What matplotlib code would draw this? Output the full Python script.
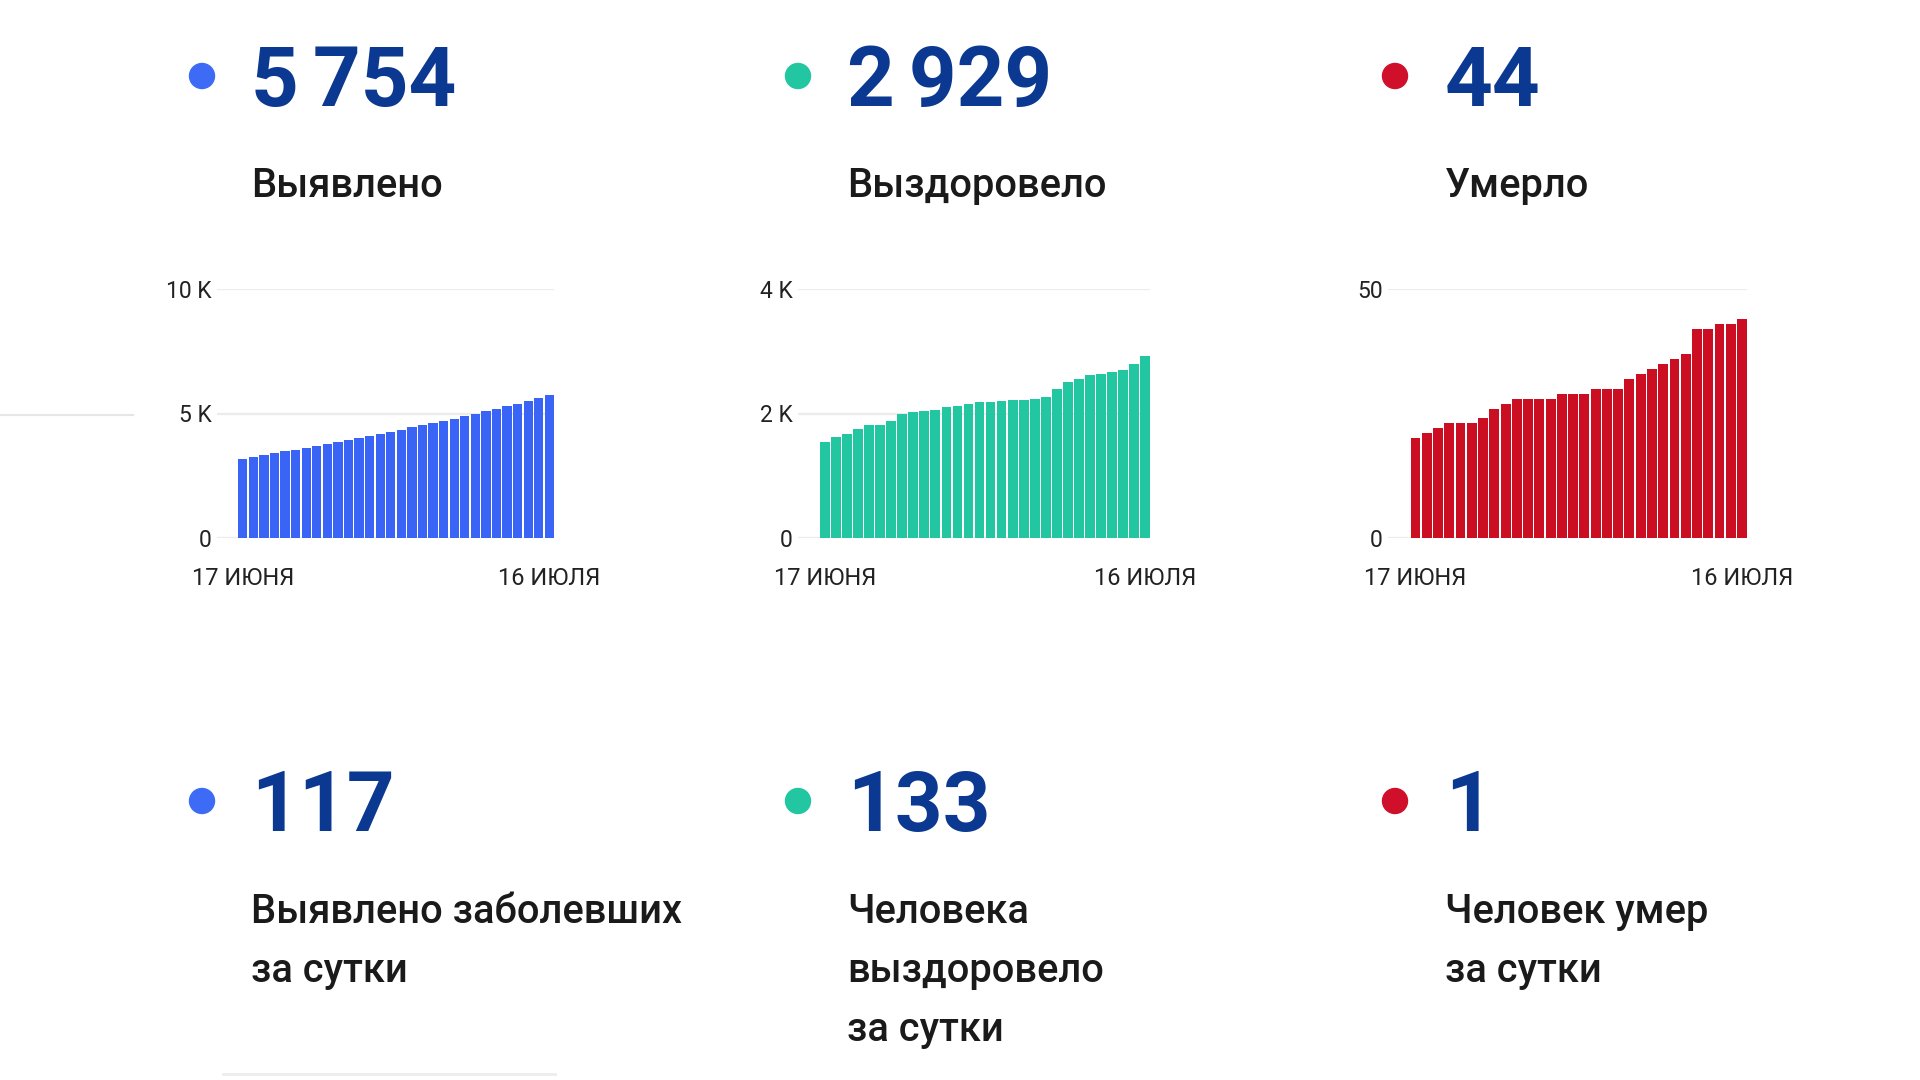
import matplotlib
matplotlib.use("Agg")
import matplotlib.pyplot as plt
from matplotlib.lines import Line2D
from matplotlib.patches import Ellipse

plt.rcParams['font.family'] = ['Roboto', 'DejaVu Sans']

# ---------------- data ----------------
date_labels = ['17 ИЮНЯ', '16 ИЮЛЯ']

detected = [3173, 3241, 3321, 3402, 3482, 3546, 3627, 3707, 3787, 3855,
            3936, 4016, 4096, 4189, 4269, 4350, 4440, 4520, 4605, 4700,
            4790, 4885, 4990, 5085, 5185, 5290, 5400, 5510, 5637, 5754]
recovered = [1548, 1624, 1666, 1752, 1810, 1812, 1886, 1993, 2030, 2035,
             2051, 2111, 2127, 2154, 2180, 2191, 2202, 2212, 2218, 2239,
             2271, 2395, 2502, 2556, 2620, 2641, 2673, 2694, 2796, 2929]
deaths = [20, 21, 22, 23, 23, 23, 24, 26, 27, 28,
          28, 28, 28, 29, 29, 29, 30, 30, 30, 32,
          33, 34, 35, 36, 37, 42, 42, 43, 43, 44]

totals = ['5\u2006754', '2\u2006929', '44']
total_labels = ['Выявлено', 'Выздоровело', 'Умерло']
daily = ['117', '133', '1']
daily_labels = ['Выявлено заболевших\nза сутки',
                'Человека\nвыздоровело\nза сутки',
                'Человек умер\nза сутки']

y_ticks = [[0, 5000, 10000], [0, 2000, 4000], [0, 50]]
y_ticklabels = [['0', '5 K', '10 K'], ['0', '2 K', '4 K'], ['0', '50']]
y_max = [10000, 4000, 50]

colors = ['#3a64f6', '#22c6a0', '#cc0e22']
dot_colors = ['#3d6bf5', '#22c7a1', '#d0102a']
num_color = '#0b3890'
text_color = '#1a1a1a'

# ---------------- figure ----------------
W, H = 1920, 1080
fig = plt.figure(figsize=(W / 100, H / 100), dpi=100)
fig.patch.set_facecolor('white')


def fx(px):
    return px / W


def fy(py):
    return 1 - py / H


col_x = [251, 847, 1445]
dot_x = [202, 798, 1395]
dot_d = 25


def dot(x, y, c):
    fig.add_artist(Ellipse((fx(x), fy(y)), width=dot_d / W, height=dot_d / H,
                           transform=fig.transFigure, color=c))


# top numbers and labels
for i in range(3):
    dot(dot_x[i], 76, dot_colors[i])
    fig.text(fx(col_x[i]), fy(106), totals[i], fontsize=60, fontweight='bold',
             color=num_color, ha='left', va='baseline',
             family=['Roboto', 'DejaVu Sans'])
    fig.text(fx(col_x[i]), fy(197), total_labels[i], fontsize=28.7,
             fontweight='medium', color=text_color, ha='left', va='baseline')

# bottom numbers and labels
for i in range(3):
    dot(dot_x[i], 801, dot_colors[i])
    fig.text(fx(col_x[i]), fy(831), daily[i], fontsize=60, fontweight='bold',
             color=num_color, ha='left', va='baseline')
    lines = daily_labels[i].split('\n')
    for j, ln in enumerate(lines):
        fig.text(fx(col_x[i]), fy(923 + 59 * j), ln, fontsize=28.7,
                 fontweight='medium', color=text_color, ha='left', va='baseline')

# charts
ax_left = [217, 798, 1388]
ax_right = [554, 1150, 1747]
ax_top, ax_bottom = 289, 538
series = [detected, recovered, deaths]

for i in range(3):
    ax = fig.add_axes([fx(ax_left[i]), fy(ax_bottom),
                       fx(ax_right[i] - ax_left[i]), (ax_bottom - ax_top) / H])
    vals = series[i]
    xs = list(range(len(vals)))
    ax.bar(xs, vals, width=0.88, color=colors[i], zorder=3)
    ax.set_xlim(-2.44, len(vals) - 0.56)
    ax.set_ylim(0, y_max[i])
    for s in ax.spines.values():
        s.set_visible(False)
    ax.set_yticks(y_ticks[i], y_ticklabels[i])
    ax.yaxis.grid(True, color='#ececec', linewidth=1.6, zorder=0)
    ax.set_xticks([0, len(vals) - 1], date_labels)
    ax.tick_params(axis='both', length=0, labelsize=16.5, labelcolor='#222222')
    ax.tick_params(axis='x', pad=21, labelsize=17)
    ax.tick_params(axis='y', pad=4)
    ax.set_facecolor('none')

# faint separator lines
fig.add_artist(Line2D([fx(0), fx(133)], [fy(415), fy(415)],
                      transform=fig.transFigure, color='#e6e6e6', linewidth=1.5))
fig.add_artist(Line2D([fx(223), fx(555)], [fy(1074), fy(1074)],
                      transform=fig.transFigure, color='#ededed', linewidth=2))

fig.savefig('out.png', dpi=100, facecolor='white')
